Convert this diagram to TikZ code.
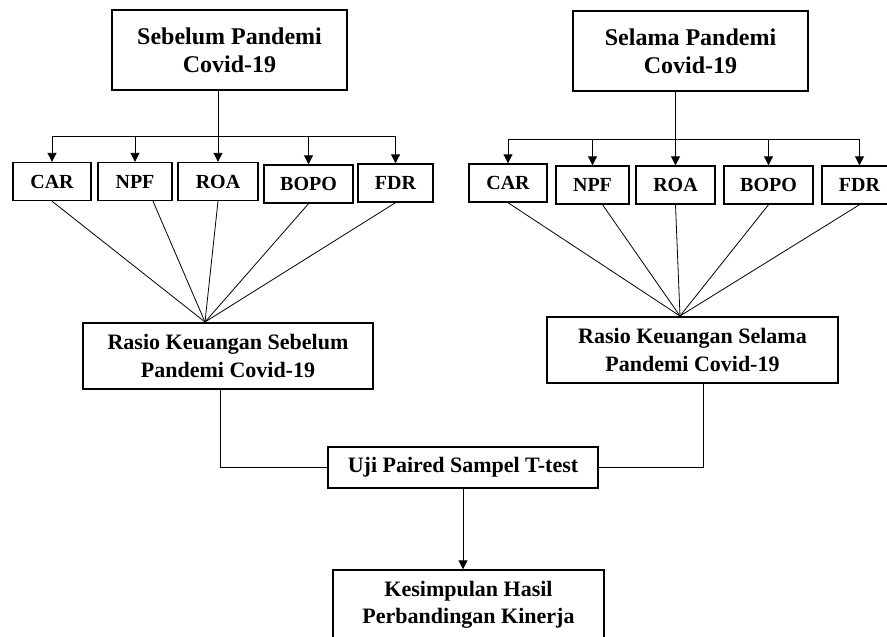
\documentclass[tikz,border=0pt]{standalone}
\usepackage{fontspec}
\setmainfont{Liberation Serif}
\usetikzlibrary{arrows.meta}

\begin{document}
\begin{tikzpicture}[x=1pt,y=-1pt]
\tikzstyle{topbox}=[draw, line width=1.4pt, align=center, inner sep=0pt, minimum width=235pt, minimum height=80pt, font=\bfseries\fontsize{24}{28}\selectfont]
\tikzstyle{varbox}=[draw, line width=1.4pt, inner sep=0pt, minimum height=38pt, font=\bfseries\fontsize{20}{24}\selectfont]
\tikzstyle{midbox}=[draw, line width=1.4pt, align=center, inner sep=0pt, font=\bfseries\fontsize{22}{28}\selectfont]
\tikzstyle{tip}=[-{Triangle[width=9pt,length=9pt]}, line width=0.9pt]
\useasboundingbox (0,0) rectangle (887,637);
\clip (0,0) rectangle (887,637);

% sebelum
\node[topbox] (topL) at (229.5,50) {Sebelum Pandemi\\Covid-19};
\node[varbox, minimum width=78pt] (carL) at (52,181.5) {CAR};
\node[varbox, minimum width=74pt] (npfL) at (135,181.5) {NPF};
\node[varbox, minimum width=80pt] (roaL) at (218,181.5) {ROA};
\node[varbox, minimum width=89pt] (bopoL) at (308.5,184) {BOPO};
\node[varbox, minimum width=75pt] (fdrL) at (395.5,183) {FDR};
\node[midbox, minimum width=290pt, minimum height=66pt] (rasioL) at (228,356) {Rasio Keuangan Sebelum\\Pandemi Covid-19};
\coordinate (busL) at (218,136);
\coordinate (apexL) at (205,322);

% selama
\node[topbox] (topR) at (690.5,51) {Selama Pandemi\\Covid-19};
\node[varbox, minimum width=78pt] (carR) at (508,183) {CAR};
\node[varbox, minimum width=73pt] (npfR) at (592.5,185) {NPF};
\node[varbox, minimum width=79pt] (roaR) at (675.5,185) {ROA};
\node[varbox, minimum width=89pt] (bopoR) at (768.5,185) {BOPO};
\node[varbox, minimum width=75pt] (fdrR) at (859.5,185) {FDR};
\node[midbox, minimum width=291pt, minimum height=66pt] (rasioR) at (692.5,350) {Rasio Keuangan Selama\\Pandemi Covid-19};
\coordinate (busR) at (675.5,139);
\coordinate (apexR) at (680,316);

% uji dan kesimpulan
\node[midbox, minimum width=270pt, minimum height=41pt] (uji) at (463,467.5) {Uji Paired Sampel T-test};
\node[midbox, minimum width=271pt, minimum height=70pt, font=\bfseries\fontsize{22}{27}\selectfont] (kes) at (468.5,605) {Kesimpulan Hasil\\Perbandingan Kinerja};

\draw[tip] (topL.south -| roaL.north) -- (roaL.north);
\draw[line width=0.9pt] (carL.north |- busL) -- (fdrL.north |- busL);
\foreach \n in {carL,npfL,bopoL,fdrL}
  \draw[tip] (\n.north |- busL) -- (\n.north);

\draw[tip] (topR.south -| roaR.north) -- (roaR.north);
\draw[line width=0.9pt] (carR.north |- busR) -- (fdrR.north |- busR);
\foreach \n in {carR,npfR,bopoR,fdrR}
  \draw[tip] (\n.north |- busR) -- (\n.north);

\path[line width=0.8pt]
(apexL) edge (carL.south)
        edge ([xshift=18pt]npfL.south)
        edge (roaL.south)
        edge (bopoL.south)
        edge (fdrL.south)
(apexR) edge (carR.south)
        edge ([xshift=10pt]npfR.south)
        edge (roaR.south)
        edge (bopoR.south)
        edge (fdrR.south);

\draw[line width=0.9pt] ([xshift=-8pt]rasioL.south) |- (uji.west);
\draw[line width=0.9pt] ([xshift=10.5pt]rasioR.south) |- (uji.east);
\draw[tip] (uji.south) -- (uji.south |- kes.north);

\end{tikzpicture}
\end{document}
